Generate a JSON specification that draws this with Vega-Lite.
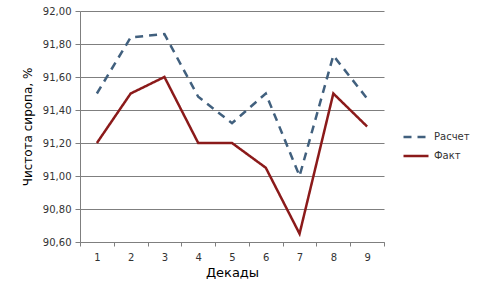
{
  "$schema": "https://vega.github.io/schema/vega-lite/v6.json",
  "width": 304,
  "height": 231,
  "autosize": {"type": "none"},
  "padding": {"left": 80, "top": 11, "right": 109, "bottom": 49},
  "background": "white",
  "config": {
    "view": {"stroke": null},
    "font": "DejaVu Sans"
  },
  "data": {
    "values": [
      {"d": 1, "s": "Расчет", "v": 91.50},
      {"d": 2, "s": "Расчет", "v": 91.84},
      {"d": 3, "s": "Расчет", "v": 91.86},
      {"d": 4, "s": "Расчет", "v": 91.48},
      {"d": 5, "s": "Расчет", "v": 91.32},
      {"d": 6, "s": "Расчет", "v": 91.50},
      {"d": 7, "s": "Расчет", "v": 91.00},
      {"d": 8, "s": "Расчет", "v": 91.73},
      {"d": 9, "s": "Расчет", "v": 91.47},
      {"d": 1, "s": "Факт", "v": 91.20},
      {"d": 2, "s": "Факт", "v": 91.50},
      {"d": 3, "s": "Факт", "v": 91.60},
      {"d": 4, "s": "Факт", "v": 91.20},
      {"d": 5, "s": "Факт", "v": 91.20},
      {"d": 6, "s": "Факт", "v": 91.05},
      {"d": 7, "s": "Факт", "v": 90.65},
      {"d": 8, "s": "Факт", "v": 91.50},
      {"d": 9, "s": "Факт", "v": 91.30}
    ]
  },
  "mark": {"type": "line", "strokeWidth": 2.5},
  "encoding": {
    "x": {
      "field": "d",
      "type": "ordinal",
      "title": "Декады",
      "scale": {"paddingInner": 0, "paddingOuter": 0},
      "axis": {
        "labelAngle": 0,
        "tickBand": "extent",
        "grid": false,
        "domainColor": "#7f7f7f",
        "tickColor": "#7f7f7f",
        "tickSize": 4,
        "labelFontSize": 10,
        "labelColor": "#333333",
        "labelPadding": 6,
        "titleFontSize": 13,
        "titleFontWeight": "normal",
        "titleColor": "#000000",
        "titlePadding": 4
      }
    },
    "y": {
      "field": "v",
      "type": "quantitative",
      "title": "Чистота сиропа, %",
      "scale": {"domain": [90.6, 92.0], "nice": false, "zero": false},
      "axis": {
        "values": [90.6, 90.8, 91.0, 91.2, 91.4, 91.6, 91.8, 92.0],
        "labelExpr": "replace(format(datum.value, '.2f'), '.', ',')",
        "grid": true,
        "gridColor": "#7f7f7f",
        "gridWidth": 1,
        "domainColor": "#7f7f7f",
        "tickColor": "#7f7f7f",
        "tickSize": 5,
        "labelFontSize": 10,
        "labelColor": "#333333",
        "labelPadding": 4,
        "titleFontSize": 12,
        "titleFontWeight": "normal",
        "titleColor": "#000000",
        "titlePadding": 8
      }
    },
    "color": {
      "field": "s",
      "type": "nominal",
      "scale": {"domain": ["Расчет", "Факт"], "range": ["#41607e", "#8b1a1a"]},
      "legend": {
        "title": null,
        "orient": "none",
        "legendX": 322,
        "legendY": 112,
        "symbolType": "stroke",
        "symbolSize": 625,
        "symbolStrokeWidth": 2.5,
        "labelFontSize": 10,
        "labelColor": "#333333",
        "rowPadding": -6,
        "padding": 0
      }
    },
    "strokeDash": {
      "field": "s",
      "type": "nominal",
      "scale": {"domain": ["Расчет", "Факт"], "range": [[8, 6], [1, 0]]},
      "legend": null
    }
  }
}
